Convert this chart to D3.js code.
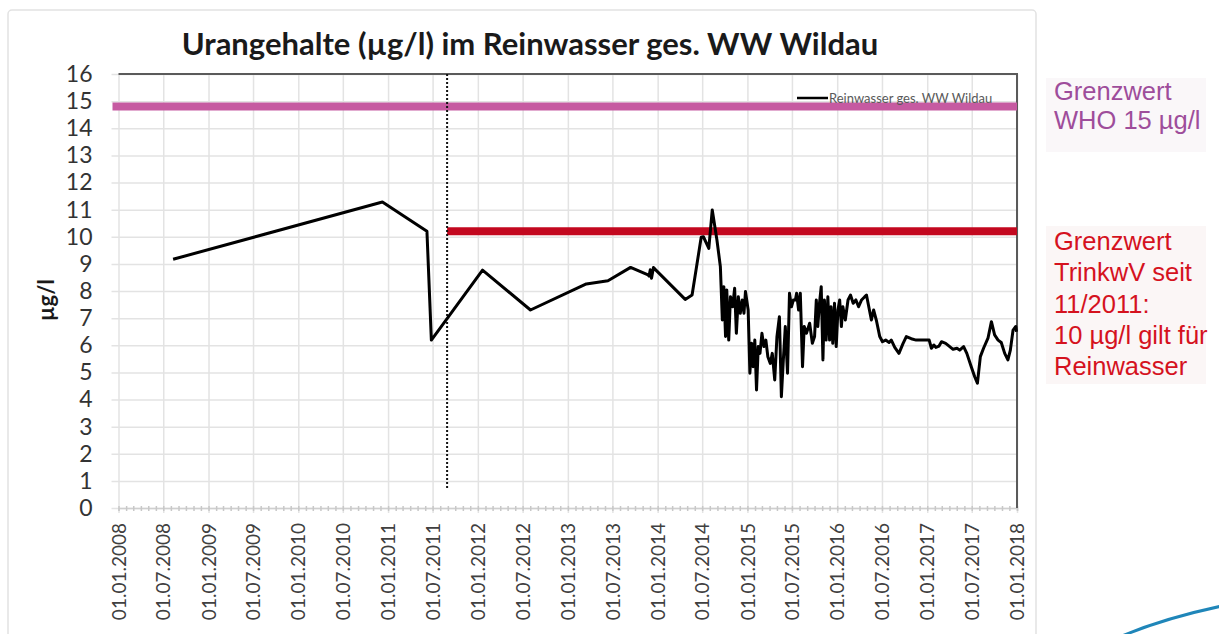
<!DOCTYPE html>
<html>
<head>
<meta charset="utf-8">
<script src="https://cdn.jsdelivr.net/npm/d3@7/dist/d3.min.js"></script>
<style>
  body { margin: 0; background: #fff; }
  svg { display: block; }
</style>
</head>
<body>
<div id="chart"></div>
<script>
const dates = [
  '2008-08-10', '2010-12-09', '2011-06-08', '2011-06-26', '2012-01-20', '2012-08-02',
  '2013-03-17', '2013-06-13', '2013-09-13', '2013-11-23', '2013-11-27', '2013-12-02',
  '2013-12-07', '2013-12-15', '2013-12-23', '2014-04-23', '2014-05-21', '2014-06-27',
  '2014-07-06', '2014-07-28', '2014-08-11', '2014-08-30', '2014-09-13', '2014-09-21',
  '2014-09-27', '2014-10-04', '2014-10-09', '2014-10-17', '2014-10-24', '2014-11-02',
  '2014-11-10', '2014-11-17', '2014-11-25', '2014-12-03', '2014-12-11', '2014-12-18',
  '2014-12-24', '2015-01-04', '2015-01-11', '2015-01-18', '2015-01-24', '2015-01-31',
  '2015-02-07', '2015-02-14', '2015-02-21', '2015-03-01', '2015-03-09', '2015-03-17',
  '2015-03-25', '2015-04-04', '2015-04-12', '2015-04-22', '2015-05-01', '2015-05-11',
  '2015-05-19', '2015-05-27', '2015-06-04', '2015-06-13', '2015-06-21', '2015-06-29',
  '2015-07-07', '2015-07-15', '2015-07-20', '2015-07-28', '2015-08-04', '2015-08-13',
  '2015-08-20', '2015-08-29', '2015-09-11', '2015-09-22', '2015-10-01', '2015-10-08',
  '2015-10-14', '2015-10-21', '2015-10-28', '2015-11-04', '2015-11-10', '2015-11-17',
  '2015-11-24', '2015-12-01', '2015-12-07', '2015-12-14', '2015-12-21', '2015-12-28',
  '2016-01-04', '2016-01-11', '2016-01-18', '2016-01-24', '2016-02-03', '2016-02-14',
  '2016-02-24', '2016-03-06', '2016-03-17', '2016-03-28', '2016-04-09', '2016-04-22',
  '2016-04-29', '2016-05-19', '2016-05-28', '2016-06-08', '2016-06-22', '2016-07-03',
  '2016-07-16', '2016-07-30', '2016-08-08', '2016-08-22', '2016-09-08', '2016-09-24',
  '2016-10-08', '2016-10-28', '2016-11-17', '2016-12-15', '2017-01-09', '2017-01-18',
  '2017-01-28', '2017-02-05', '2017-02-18', '2017-02-28', '2017-03-17', '2017-03-31',
  '2017-04-16', '2017-05-02', '2017-05-13', '2017-05-29', '2017-06-11', '2017-06-29',
  '2017-07-13', '2017-07-24', '2017-08-05', '2017-08-18', '2017-09-05', '2017-09-19',
  '2017-10-02', '2017-10-16', '2017-10-29', '2017-11-12', '2017-11-25', '2017-12-05',
  '2017-12-16', '2017-12-27', '2017-12-30'
];
const values = [
  9.17, 11.28, 10.2, 6.19, 8.77, 7.30,
  8.26, 8.38, 8.87, 8.59, 8.55, 8.78,
  8.47, 8.87, 8.79, 7.69, 7.85, 9.98,
  10.0, 9.57, 10.99, 9.88, 8.9, 6.93,
  8.16, 6.32, 8.04, 6.19, 7.79, 7.42,
  8.10, 6.44, 7.79, 7.18, 7.67, 7.18,
  7.98, 7.30, 4.97, 6.07, 5.21, 6.19,
  4.35, 5.95, 5.70, 6.44, 5.95, 6.19,
  5.58, 5.33, 5.70, 4.72, 6.32, 7.05,
  4.10, 5.46, 6.69, 4.97, 7.92, 7.42,
  7.67, 7.67, 7.92, 7.30, 7.92, 5.21,
  6.69, 6.44, 6.81, 6.07, 6.32, 7.67,
  6.69, 7.55, 8.16, 5.46, 7.67, 6.19,
  7.79, 6.19, 7.42, 6.07, 7.55, 5.95,
  7.30, 7.67, 6.69, 7.42, 6.93, 7.67,
  7.85, 7.55, 7.67, 7.42, 7.67, 7.79,
  7.85, 6.93, 7.30, 6.93, 6.32, 6.13,
  6.19, 6.10, 6.19, 5.92, 5.70, 6.05,
  6.32, 6.24, 6.19, 6.19, 6.19, 5.89,
  6.01, 5.92, 5.97, 6.13, 6.07, 5.97,
  5.85, 5.89, 5.82, 5.95, 5.70, 5.21,
  4.84, 4.60, 5.58, 5.89, 6.26, 6.87,
  6.38, 6.19, 6.10, 5.70, 5.46, 5.82,
  6.56, 6.69, 6.50
];

// Achsen
const xTickDates = [
  '2008-01-01', '2008-07-01', '2009-01-01', '2009-07-01', '2010-01-01', '2010-07-01',
  '2011-01-01', '2011-07-01', '2012-01-01', '2012-07-01', '2013-01-01', '2013-07-01',
  '2014-01-01', '2014-07-01', '2015-01-01', '2015-07-01', '2016-01-01', '2016-07-01',
  '2017-01-01', '2017-07-01', '2018-01-01'
];
const yTicks = [0, 1, 2, 3, 4, 5, 6, 7, 8, 9, 10, 11, 12, 13, 14, 15, 16];

// Grenzwerte
const whoLimit = 14.8;
const trinkwvLimit = 10.2;
const trinkwvStart = '2011-08-29';
const markerBottom = 0.7;

const titleText = 'Urangehalte (µg/l) im Reinwasser ges. WW Wildau';
const seriesName = 'Reinwasser ges. WW Wildau';
const whoLines = ['Grenzwert', 'WHO 15 µg/l'];
const trinkwvLines = ['Grenzwert', 'TrinkwV seit', '11/2011:', '10 µg/l gilt für', 'Reinwasser'];

const parse = d3.timeParse('%Y-%m-%d');
const fmt = d3.timeFormat('%d.%m.%Y');
const data = dates.map((d, i) => ({ date: parse(d), value: values[i] }));

// svg
const svgWidth = 1219;
const svgHeight = 634;
const svg = d3.select('#chart')
  .append('svg')
  .attr('width', svgWidth)
  .attr('height', svgHeight);

// Diagrammrahmen
svg.append('rect')
  .attr('x', 8).attr('y', 10)
  .attr('width', 1028).attr('height', 640)
  .attr('rx', 4)
  .attr('fill', '#fff')
  .attr('stroke', '#e2e2e2')
  .attr('stroke-width', 1.5);

const margin = { top: 74, left: 118.5 };
const width = 898.5;
const height = 434;
const graph = svg.append('g')
  .attr('transform', `translate(${margin.left},${margin.top})`);

const xScale = d3.scaleTime()
  .domain([parse('2008-01-01'), parse('2018-01-01')])
  .range([0, width]);
const yScale = d3.scaleLinear()
  .domain([0, 16])
  .range([height, 0]);

// horizontale Gitterlinien
graph.append('g')
  .call(d3.axisLeft(yScale).tickValues(yTicks).tickSize(-width - 7).tickFormat(''))
  .attr('transform', 'translate(-7,0)')
  .call(g => g.select('.domain').remove())
  .call(g => g.selectAll('line').attr('stroke', '#e3e3e3').attr('stroke-width', 1.5));

// vertikale Gitterlinien
graph.append('g')
  .call(d3.axisBottom(xScale).tickValues(xTickDates.map(parse)).tickSize(height + 5).tickFormat(''))
  .call(g => g.select('.domain').remove())
  .call(g => g.selectAll('line').attr('stroke', '#e3e3e3').attr('stroke-width', 1.5));

// x-Achse mit Monatsstrichen
graph.append('g')
  .attr('transform', `translate(0,${height})`)
  .call(d3.axisBottom(xScale).ticks(d3.timeMonth.every(1)).tickSize(3).tickFormat(''))
  .call(g => g.select('.domain').attr('stroke', '#cfcfcf').attr('stroke-width', 1.5))
  .call(g => g.selectAll('line').attr('stroke', '#c8c8c8').attr('stroke-width', 1.5).attr('y1', -2));

// x-Beschriftung
graph.append('g')
  .attr('transform', `translate(0,${height})`)
  .call(d3.axisBottom(xScale).tickValues(xTickDates.map(parse)).tickSize(0).tickFormat(fmt))
  .call(g => g.select('.domain').remove())
  .call(g => g.selectAll('text')
    .attr('transform', 'rotate(-90)')
    .attr('text-anchor', 'end')
    .attr('x', -15)
    .attr('y', 0)
    .attr('dy', '0.35em')
    .attr('fill', '#404040')
    .style('font-family', 'Lato, sans-serif')
    .style('font-size', '19px'));

// y-Beschriftung
graph.append('g')
  .call(d3.axisLeft(yScale).tickValues(yTicks).tickSize(0).tickPadding(26))
  .call(g => g.select('.domain').remove())
  .call(g => g.selectAll('text')
    .attr('fill', '#333')
    .style('font-family', 'Lato, sans-serif')
    .style('font-size', '23px'));

// Rahmen oben und rechts
graph.append('path')
  .attr('d', `M0,0H${width}V${height}`)
  .attr('fill', 'none')
  .attr('stroke', '#5a5a5a')
  .attr('stroke-width', 2);

// Grenzwert WHO
graph.append('line')
  .attr('x1', -6).attr('x2', width)
  .attr('y1', yScale(whoLimit)).attr('y2', yScale(whoLimit))
  .attr('stroke', '#c65aa1')
  .attr('stroke-width', 8);

// Grenzwert TrinkwV
graph.append('line')
  .attr('x1', xScale(parse(trinkwvStart))).attr('x2', width)
  .attr('y1', yScale(trinkwvLimit)).attr('y2', yScale(trinkwvLimit))
  .attr('stroke', '#c3081f')
  .attr('stroke-width', 8);

// Stichtag (gepunktet)
graph.append('line')
  .attr('x1', xScale(parse(trinkwvStart))).attr('x2', xScale(parse(trinkwvStart)))
  .attr('y1', 0).attr('y2', yScale(markerBottom))
  .attr('stroke', '#111')
  .attr('stroke-width', 2)
  .attr('stroke-dasharray', '2,2');

// Messreihe
const line = d3.line()
  .x(d => xScale(d.date))
  .y(d => yScale(d.value));
graph.append('path')
  .datum(data)
  .attr('d', line)
  .attr('fill', 'none')
  .attr('stroke', '#000')
  .attr('stroke-width', 3)
  .attr('stroke-linejoin', 'round');

// Legende
const legend = svg.append('g').attr('transform', 'translate(797,98)');
legend.append('line')
  .attr('x1', 0).attr('x2', 31)
  .attr('stroke', '#000').attr('stroke-width', 2.5);
legend.append('text')
  .attr('x', 32).attr('dy', '0.35em')
  .attr('fill', '#595959')
  .style('font-family', 'Lato, sans-serif')
  .style('font-size', '13px')
  .text(seriesName);

// Titel
svg.append('text')
  .attr('x', 530).attr('y', 55)
  .attr('text-anchor', 'middle')
  .attr('fill', '#1a1a1a')
  .style('font-family', 'Lato, sans-serif')
  .style('font-weight', 'bold')
  .style('font-size', '31px')
  .text(titleText);

// y-Achsentitel
svg.append('text')
  .attr('transform', 'translate(54,300) rotate(-90)')
  .attr('text-anchor', 'middle')
  .attr('fill', '#1a1a1a')
  .style('font-family', 'Lato, sans-serif')
  .style('font-weight', 'bold')
  .style('font-size', '22px')
  .text('µg/l');

// Hinweise rechts
svg.append('rect')
  .attr('x', 1046).attr('y', 78).attr('width', 160).attr('height', 74)
  .attr('fill', '#faf7f9');
svg.append('rect')
  .attr('x', 1046).attr('y', 226).attr('width', 160).attr('height', 158)
  .attr('fill', '#fbf6f6');

svg.append('text')
  .attr('x', 1054).attr('y', 100)
  .attr('fill', '#9e4d9b')
  .style('font-family', '"Liberation Sans", Arial, sans-serif')
  .style('font-size', '25.5px')
  .selectAll('tspan')
  .data(whoLines)
  .join('tspan')
  .attr('x', 1054)
  .attr('dy', (d, i) => i === 0 ? 0 : 29)
  .text(d => d);

svg.append('text')
  .attr('x', 1054).attr('y', 250)
  .attr('fill', '#d5121e')
  .style('font-family', '"Liberation Sans", Arial, sans-serif')
  .style('font-size', '25.5px')
  .selectAll('tspan')
  .data(trinkwvLines)
  .join('tspan')
  .attr('x', 1054)
  .attr('dy', (d, i) => i === 0 ? 0 : 31.3)
  .text(d => d);

// Folienschmuck unten rechts
svg.append('path')
  .attr('d', 'M1122,636 Q1165,618 1222,606')
  .attr('fill', 'none')
  .attr('stroke', '#1f86b9')
  .attr('stroke-width', 3);
</script>
</body>
</html>
